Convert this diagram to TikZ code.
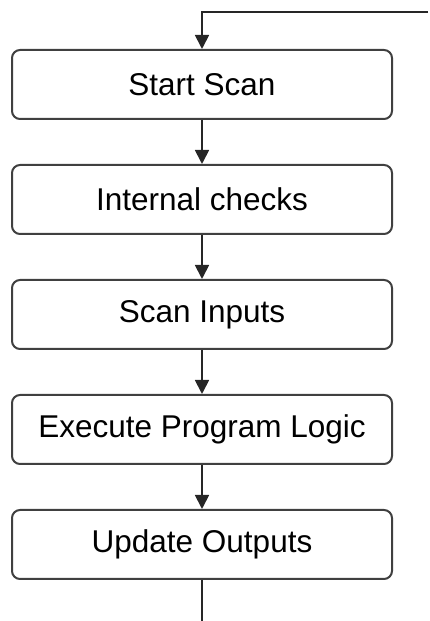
\documentclass[tikz,border=0pt]{standalone}
\usepackage{fontspec}
\setmainfont{Liberation Sans}
\usetikzlibrary{arrows.meta}
\begin{document}
\begin{tikzpicture}[x=1pt,y=1pt,
  stepbox/.style={draw=black!75, line width=2pt, rounded corners=8pt,
    minimum width=380pt, minimum height=69pt, inner sep=0pt,
    font=\fontsize{31.5}{36}\selectfont},
  conn/.style={draw=black!85, line width=1.8pt,
    -{Triangle[length=14pt,width=14pt]}},
  plain/.style={draw=black!85, line width=1.8pt}]
\useasboundingbox (0,0) rectangle (430,621);
\node[stepbox] (s1) at (202,536.5) {Start Scan};
\node[stepbox] (s2) at (202,421.5) {Internal checks};
\node[stepbox] (s3) at (202,306.5) {Scan Inputs};
\node[stepbox] (s4) at (202,191.5) {Execute Program Logic};
\node[stepbox] (s5) at (202,76.5) {Update Outputs};
\coordinate (tr) at (428,609);
\coordinate (bot) at (202,0);
\draw[conn] (tr) -| (s1.north);
\draw[conn] (s1) -- (s2);
\draw[conn] (s2) -- (s3);
\draw[conn] (s3) -- (s4);
\draw[conn] (s4) -- (s5);
\draw[plain] (s5) -- (bot);
\end{tikzpicture}
\end{document}
